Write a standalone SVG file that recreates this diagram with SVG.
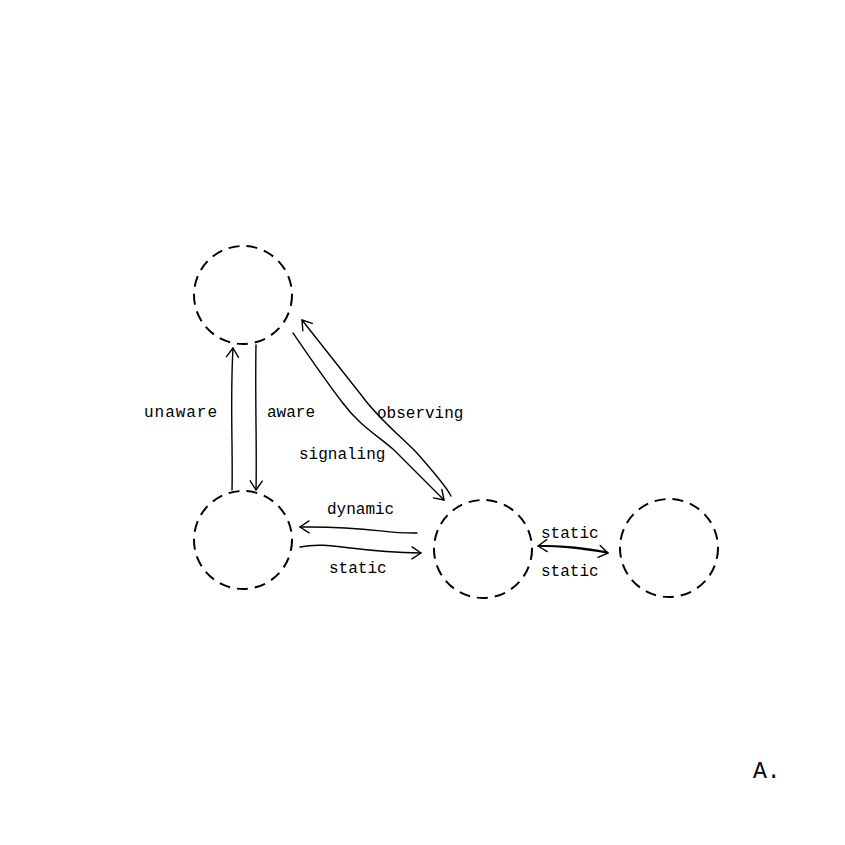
<svg xmlns="http://www.w3.org/2000/svg" width="845" height="845" viewBox="0 0 845 845">
<defs>
<marker id="arr" viewBox="-12 -8 14 16" markerWidth="14" markerHeight="16" refX="0" refY="0" orient="auto" markerUnits="userSpaceOnUse">
<path d="M-9,-6 L0,0 L-9,6" fill="none" stroke="#000" stroke-width="1.4" stroke-linecap="round" stroke-linejoin="round"/>
</marker>
<style>
.node{fill:none;stroke:#000;stroke-width:2;stroke-dasharray:11 7}
.edge{fill:none;stroke:#000;stroke-width:1.4;stroke-linecap:round;marker-end:url(#arr)}
.lbl{font-family:"Liberation Mono","DejaVu Sans Mono",monospace;font-size:16px;fill:#000}
</style>
</defs>
<rect width="845" height="845" fill="#fff"/>
<g id="n1"><circle class="node" cx="243" cy="295" r="49"/></g>
<g id="n2"><circle class="node" cx="243" cy="540" r="49"/></g>
<g id="n3"><circle class="node" cx="483" cy="549" r="49"/></g>
<g id="n4"><circle class="node" cx="669" cy="548" r="49"/></g>
<g id="connectors">
<path class="edge" d="M232,490 C233,450 230,400 233,348"/>
<path class="edge" d="M256,345 C255,400 257,450 256,490"/>
<path class="edge" d="M451,496 C446,486 432,470 416,452 C396,432 378,418 362,396 L302,320"/>
<path class="edge" d="M293,333 C308,355 325,380 342,402 C358,424 378,436 394,450 L444,500"/>
<path class="edge" d="M417,533 C385,534 370,526 300,527"/>
<path class="edge" d="M300,547 C330,541 350,552 421,553"/>
<path class="edge" d="M540,546 C560,546 585,549 608,553"/>
<path class="edge" d="M607,552 C585,548 562,545 538,546"/>
</g>
<g id="labels">
<text class="lbl" x="144" y="417" textLength="73">unaware</text>
<text class="lbl" x="267" y="417">aware</text>
<text class="lbl" x="377" y="418">observing</text>
<text class="lbl" x="299" y="459">signaling</text>
<text class="lbl" x="327" y="514">dynamic</text>
<text class="lbl" x="329" y="573">static</text>
<text class="lbl" x="541" y="538">static</text>
<text class="lbl" x="541" y="576">static</text>
<text class="lbl" x="753" y="778" style="font-size:23px">A.</text>
</g>
</svg>
